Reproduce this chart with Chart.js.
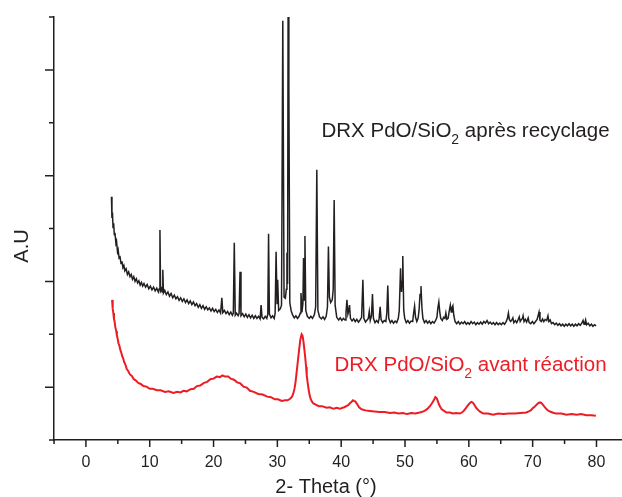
<!DOCTYPE html>
<html>
<head>
<meta charset="utf-8">
<script src="https://cdn.jsdelivr.net/npm/chart.js@4.4.1/dist/chart.umd.min.js"></script>
<style>
  html, body { margin: 0; padding: 0; background: #fff; }
  #wrap { width: 622px; height: 497px; position: relative; }
</style>
</head>
<body>
<div id="wrap"><canvas id="DrxChart"></canvas></div>
<script>
// 2-theta (deg) vs intensity (arbitrary units)
const recyclage = [
  [4.0,4.60],[4.08,4.20],[4.16,4.30],[4.25,4.02],[4.35,4.10],[4.45,3.88],[4.55,3.92],[4.7,3.72],[4.8,3.76],
  [4.95,3.56],[5.05,3.60],[5.2,3.44],[5.35,3.46],[5.5,3.34],[5.65,3.38],[5.8,3.26],[5.95,3.30],[6.1,3.20],
  [6.3,3.24],[6.5,3.13],[6.7,3.18],[6.9,3.09],[7.1,3.13],[7.3,3.04],[7.5,3.09],[7.7,3.00],[7.9,3.05],
  [8.1,2.97],[8.3,3.01],[8.5,2.93],[8.7,2.98],[8.9,2.91],[9.1,2.96],[9.35,2.89],[9.6,2.94],[9.85,2.86],
  [10.1,2.91],[10.35,2.84],[10.6,2.89],[10.85,2.82],[11.1,2.87],[11.35,2.80],[11.5,2.86],[11.6,3.97],
  [11.7,2.82],[11.85,2.86],[11.95,2.80],[12.05,3.22],[12.15,2.78],[12.35,2.83],[12.6,2.75],[12.85,2.80],
  [13.1,2.72],[13.35,2.77],[13.6,2.69],[13.85,2.74],[14.1,2.67],[14.35,2.71],[14.6,2.64],[14.85,2.69],
  [15.1,2.62],[15.35,2.67],[15.6,2.60],[15.85,2.65],[16.1,2.58],[16.35,2.63],[16.6,2.56],[16.85,2.61],
  [17.1,2.54],[17.35,2.58],[17.6,2.51],[17.85,2.56],[18.1,2.49],[18.35,2.54],[18.6,2.47],[18.85,2.52],
  [19.1,2.46],[19.35,2.50],[19.6,2.44],[19.85,2.49],[20.1,2.43],[20.35,2.47],[20.6,2.41],[20.85,2.46],
  [21.1,2.40],[21.3,2.69],[21.45,2.41],[21.7,2.45],[21.95,2.39],[22.2,2.43],[22.45,2.37],[22.7,2.42],
  [22.95,2.36],[23.1,2.40],[23.25,3.73],[23.4,2.36],[23.6,2.40],[23.85,2.35],[24.0,2.39],[24.15,3.18],
  [24.3,2.35],[24.55,2.39],[24.8,2.33],[25.05,2.38],[25.3,2.32],[25.55,2.37],[25.8,2.31],[26.05,2.36],
  [26.3,2.30],[26.55,2.35],[26.8,2.30],[27.05,2.34],[27.3,2.29],[27.45,2.55],[27.6,2.32],[27.85,2.29],
  [28.1,2.34],[28.35,2.30],[28.5,2.38],[28.62,3.90],[28.75,2.38],[29.0,2.31],[29.25,2.35],[29.5,2.30],
  [29.65,2.40],[29.8,3.56],[29.95,2.58],[30.05,3.03],[30.2,2.45],[30.45,2.48],[30.65,2.55],[30.85,7.93],
  [31.05,2.70],[31.25,2.68],[31.4,2.85],[31.5,3.54],[31.6,2.95],[31.68,8.0],[31.8,6.71],[31.95,2.60],
  [32.15,2.45],[32.4,2.36],[32.65,2.31],[32.9,2.35],[33.15,2.30],[33.4,2.34],[33.6,2.40],[33.7,2.78],
  [33.85,2.42],[34.0,2.58],[34.1,3.44],[34.2,2.65],[34.32,3.86],[34.45,2.45],[34.7,2.34],[35.0,2.30],
  [35.25,2.34],[35.5,2.30],[35.8,2.37],[36.0,2.52],[36.18,5.11],[36.35,2.45],[36.6,2.33],[36.9,2.29],
  [37.15,2.33],[37.4,2.28],[37.65,2.34],[37.85,2.52],[38.0,3.66],[38.15,2.70],[38.35,2.60],[38.6,2.65],
  [38.75,2.85],[38.9,4.54],[39.05,2.55],[39.3,2.32],[39.6,2.27],[39.85,2.31],[40.1,2.26],[40.35,2.30],
  [40.6,2.27],[40.75,2.40],[40.9,2.65],[41.05,2.38],[41.2,2.45],[41.3,2.55],[41.45,2.30],[41.7,2.25],
  [41.95,2.29],[42.2,2.24],[42.45,2.28],[42.7,2.23],[42.95,2.27],[43.2,2.32],[43.4,3.03],[43.55,2.30],
  [43.8,2.23],[44.05,2.27],[44.25,2.30],[44.4,2.43],[44.55,2.26],[44.75,2.35],[44.9,2.76],[45.05,2.30],
  [45.3,2.22],[45.55,2.26],[45.8,2.22],[45.95,2.30],[46.1,2.52],[46.25,2.28],[46.5,2.22],[46.75,2.26],
  [47.0,2.24],[47.15,2.40],[47.3,2.92],[47.45,2.30],[47.7,2.22],[47.95,2.26],[48.2,2.21],[48.45,2.25],
  [48.7,2.22],[48.95,2.30],[49.1,2.45],[49.3,3.25],[49.45,2.80],[49.55,3.00],[49.65,3.48],[49.8,2.45],
  [49.95,2.30],[50.2,2.22],[50.45,2.26],[50.7,2.21],[50.95,2.25],[51.2,2.24],[51.35,2.40],[51.5,2.53],
  [51.65,2.32],[51.85,2.24],[52.05,2.30],[52.2,2.45],[52.35,2.75],[52.5,2.91],[52.65,2.50],[52.8,2.30],
  [53.05,2.22],[53.3,2.26],[53.55,2.21],[53.8,2.25],[54.05,2.20],[54.3,2.24],[54.55,2.21],[54.8,2.26],
  [55.0,2.32],[55.15,2.50],[55.3,2.61],[55.45,2.42],[55.6,2.30],[55.85,2.26],[56.05,2.32],[56.25,2.30],
  [56.4,2.40],[56.55,2.28],[56.75,2.30],[56.95,2.45],[57.1,2.55],[57.25,2.42],[57.35,2.50],[57.5,2.54],
  [57.65,2.35],[57.85,2.24],[58.1,2.20],[58.35,2.24],[58.6,2.19],[58.85,2.23],[59.1,2.20],[59.35,2.24],
  [59.6,2.19],[59.85,2.22],[60.1,2.19],[60.35,2.24],[60.6,2.20],[60.85,2.23],[61.1,2.18],[61.35,2.22],
  [61.6,2.19],[61.85,2.23],[62.1,2.19],[62.35,2.24],[62.6,2.21],[62.85,2.26],[63.1,2.20],[63.35,2.23],
  [63.6,2.19],[63.85,2.22],[64.1,2.18],[64.35,2.22],[64.6,2.18],[64.85,2.21],[65.1,2.18],[65.35,2.22],
  [65.6,2.19],[65.85,2.24],[66.05,2.30],[66.2,2.40],[66.35,2.28],[66.55,2.24],[66.75,2.27],[66.9,2.31],
  [67.05,2.22],[67.3,2.26],[67.5,2.22],[67.7,2.27],[67.9,2.33],[68.05,2.24],[68.25,2.28],[68.4,2.30],
  [68.5,2.35],[68.65,2.24],[68.85,2.28],[69.05,2.23],[69.2,2.28],[69.3,2.31],[69.45,2.22],[69.7,2.20],
  [69.95,2.24],[70.2,2.20],[70.45,2.24],[70.7,2.28],[70.85,2.35],[71.0,2.42],[71.15,2.26],[71.35,2.24],
  [71.55,2.29],[71.75,2.24],[71.95,2.28],[72.2,2.26],[72.4,2.35],[72.55,2.24],[72.75,2.27],[72.95,2.20],
  [73.2,2.22],[73.45,2.18],[73.7,2.21],[73.95,2.17],[74.2,2.20],[74.45,2.16],[74.7,2.19],[74.95,2.15],
  [75.2,2.19],[75.45,2.16],[75.7,2.20],[75.95,2.16],[76.2,2.19],[76.45,2.15],[76.7,2.19],[76.95,2.16],
  [77.2,2.20],[77.45,2.17],[77.7,2.21],[77.9,2.26],[78.05,2.19],[78.2,2.22],[78.3,2.27],[78.45,2.18],
  [78.7,2.21],[78.95,2.16],[79.2,2.19],[79.45,2.15],[79.7,2.18],[79.95,2.16]
];

const avantReaction = [
  [4.1,2.65],[4.2,2.48],[4.3,2.40],[4.4,2.28],[4.5,2.24],[4.6,2.14],[4.75,2.06],[4.85,1.98],[5.0,1.90],
  [5.1,1.83],[5.25,1.78],[5.4,1.70],[5.55,1.65],[5.7,1.58],[5.85,1.54],[6.0,1.47],[6.2,1.42],[6.4,1.34],
  [6.6,1.31],[6.9,1.24],[7.2,1.21],[7.5,1.15],[7.8,1.13],[8.2,1.08],[8.6,1.06],[9.0,1.02],[9.5,1.01],
  [10.0,0.97],[10.5,0.97],[11.1,0.94],[11.7,0.94],[12.4,0.91],[13.0,0.92],[13.7,0.89],[14.3,0.91],
  [14.8,0.90],[15.3,0.93],[15.8,0.92],[16.4,0.96],[16.9,0.97],[17.4,1.02],[17.9,1.03],[18.5,1.08],
  [19.0,1.10],[19.5,1.15],[20.0,1.16],[20.5,1.20],[21.0,1.19],[21.4,1.22],[21.8,1.20],[22.3,1.20],
  [22.7,1.16],[23.2,1.14],[23.7,1.09],[24.2,1.07],[24.7,1.01],[25.2,0.99],[25.7,0.93],[26.3,0.91],
  [27.0,0.87],[27.7,0.86],[28.4,0.82],[29.0,0.81],[29.6,0.77],[30.1,0.77],[30.7,0.74],[31.2,0.75],
  [31.6,0.75],[32.0,0.78],[32.3,0.82],[32.5,0.88],[32.7,0.98],[32.85,1.10],[33.0,1.26],[33.2,1.48],
  [33.4,1.70],[33.6,1.90],[33.8,2.00],[33.95,1.97],[34.1,1.85],[34.35,1.58],[34.5,1.38],[34.6,1.22],
  [34.75,1.08],[34.9,0.95],[35.05,0.85],[35.2,0.78],[35.4,0.73],[35.65,0.69],[36.0,0.67],[36.5,0.64],
  [37.0,0.64],[37.7,0.61],[38.2,0.62],[38.8,0.59],[39.3,0.61],[39.8,0.59],[40.2,0.61],[40.5,0.62],
  [40.8,0.64],[41.1,0.66],[41.4,0.70],[41.6,0.72],[41.85,0.75],[42.0,0.74],[42.2,0.73],[42.5,0.68],
  [42.8,0.62],[43.2,0.58],[43.8,0.56],[44.5,0.55],[45.2,0.54],[46.0,0.53],[46.8,0.53],[47.65,0.51],
  [48.3,0.52],[49.0,0.50],[49.7,0.51],[50.3,0.49],[51.0,0.51],[51.6,0.50],[52.3,0.52],[52.9,0.54],
  [53.3,0.57],[53.6,0.60],[53.9,0.64],[54.2,0.69],[54.5,0.75],[54.75,0.81],[54.95,0.79],[55.1,0.75],
  [55.3,0.68],[55.5,0.63],[55.75,0.58],[56.0,0.56],[56.5,0.52],[57.0,0.52],[57.5,0.50],[58.0,0.51],
  [58.6,0.50],[58.9,0.52],[59.2,0.55],[59.45,0.59],[59.7,0.63],[60.0,0.68],[60.25,0.71],[60.4,0.72],
  [60.6,0.71],[60.8,0.68],[61.0,0.64],[61.2,0.60],[61.45,0.57],[61.7,0.54],[62.0,0.52],[62.3,0.50],
  [63.0,0.50],[63.8,0.48],[64.6,0.50],[65.4,0.49],[66.3,0.50],[67.2,0.50],[68.1,0.51],[69.0,0.52],
  [69.4,0.54],[69.7,0.56],[70.0,0.60],[70.3,0.63],[70.55,0.66],[70.8,0.69],[71.1,0.71],[71.35,0.70],
  [71.6,0.67],[71.9,0.62],[72.2,0.58],[72.5,0.55],[72.9,0.53],[73.3,0.51],[73.7,0.50],[74.5,0.50],
  [75.3,0.48],[76.1,0.49],[76.9,0.48],[77.6,0.49],[78.4,0.47],[79.2,0.47],[79.9,0.46]
];

const xTickLabels = [0, 10, 20, 30, 40, 50, 60, 70, 80];
const xMinorTicks = [-5, 5, 15, 25, 35, 45, 55, 65, 75];
const yMajorTicks = [1, 3, 5, 7];
const yMinorTicks = [0, 2, 4, 6, 8];

const INK = "#231f20";
const RED = "#ed1c24";
const FONT = "'Liberation Sans', Arial, sans-serif";

// axis ticks, axis titles and the two curve labels
const decorPlugin = {
  id: 'decor',
  afterDraw(chart) {
    const ctx = chart.ctx;
    const xs = chart.scales.x, ys = chart.scales.y;
    const area = chart.chartArea;
    ctx.save();
    ctx.strokeStyle = INK;
    ctx.lineWidth = 1.5;
    ctx.beginPath();
    xTickLabels.forEach(v => { const p = xs.getPixelForValue(v); ctx.moveTo(p, area.bottom); ctx.lineTo(p, area.bottom + 7); });
    xMinorTicks.forEach(v => { const p = xs.getPixelForValue(v); ctx.moveTo(p, area.bottom); ctx.lineTo(p, area.bottom + 4); });
    yMajorTicks.forEach(v => { const p = ys.getPixelForValue(v); ctx.moveTo(area.left, p); ctx.lineTo(area.left - 9, p); });
    yMinorTicks.forEach(v => { const p = ys.getPixelForValue(v); ctx.moveTo(area.left, p); ctx.lineTo(area.left - 5, p); });
    ctx.stroke();

    ctx.fillStyle = INK;
    ctx.font = "20px " + FONT;
    ctx.textAlign = "center";
    ctx.textBaseline = "middle";
    ctx.fillText("2- Theta (°)", 326, 487);
    ctx.save();
    ctx.translate(22, 246);
    ctx.rotate(-Math.PI / 2);
    ctx.fillText("A.U", 0, 0);
    ctx.restore();

    function label(x, y, before, after, color) {
      ctx.fillStyle = color;
      ctx.textAlign = "left";
      ctx.textBaseline = "alphabetic";
      ctx.font = "20.5px " + FONT;
      ctx.fillText(before, x, y);
      let w = ctx.measureText(before).width;
      ctx.font = "14px " + FONT;
      ctx.fillText("2", x + w, y + 7);
      w += ctx.measureText("2").width;
      ctx.font = "20.5px " + FONT;
      ctx.fillText(after, x + w, y);
    }
    label(321.5, 137, "DRX PdO/SiO", " après recyclage", INK);
    label(334.5, 371, "DRX PdO/SiO", " avant réaction", RED);
    ctx.restore();
  }
};

const DRXCHART = document.getElementById("DrxChart");

let DrxChart = new Chart(DRXCHART, {
  type: 'line',
  data: {
    datasets: [
      {
        label: "DRX PdO/SiO2 après recyclage",
        data: recyclage.map(p => ({ x: p[0], y: p[1] })),
        borderColor: INK,
        borderWidth: 1.5,
        pointRadius: 0,
        fill: false,
        tension: 0
      },
      {
        label: "DRX PdO/SiO2 avant réaction",
        data: avantReaction.map(p => ({ x: p[0], y: p[1] })),
        borderColor: RED,
        borderWidth: 2,
        pointRadius: 0,
        fill: false,
        tension: 0
      }
    ]
  },
  options: {
    responsive: true,
    maintainAspectRatio: false,
    animation: false,
    layout: { padding: { top: 17, right: 0, left: 0, bottom: 0 } },
    plugins: { legend: { display: false }, tooltip: { enabled: false } },
    scales: {
      x: {
        type: 'linear',
        min: -5,
        max: 84,
        afterBuildTicks: (scale) => { scale.ticks = xTickLabels.map(v => ({ value: v })); },
        afterFit: (scale) => { scale.height = 57; },
        grid: { display: false, drawTicks: false },
        border: { display: true, color: INK, width: 1.5 },
        ticks: { autoSkip: false, maxRotation: 0, padding: 13, color: INK, font: { family: FONT, size: 16 } }
      },
      y: {
        type: 'linear',
        min: 0,
        max: 8,
        afterFit: (scale) => { scale.width = 54; },
        grid: { display: false, drawTicks: false },
        border: { display: true, color: INK, width: 1.5 },
        ticks: { display: false }
      }
    }
  },
  plugins: [decorPlugin]
});
</script>
</body>
</html>
